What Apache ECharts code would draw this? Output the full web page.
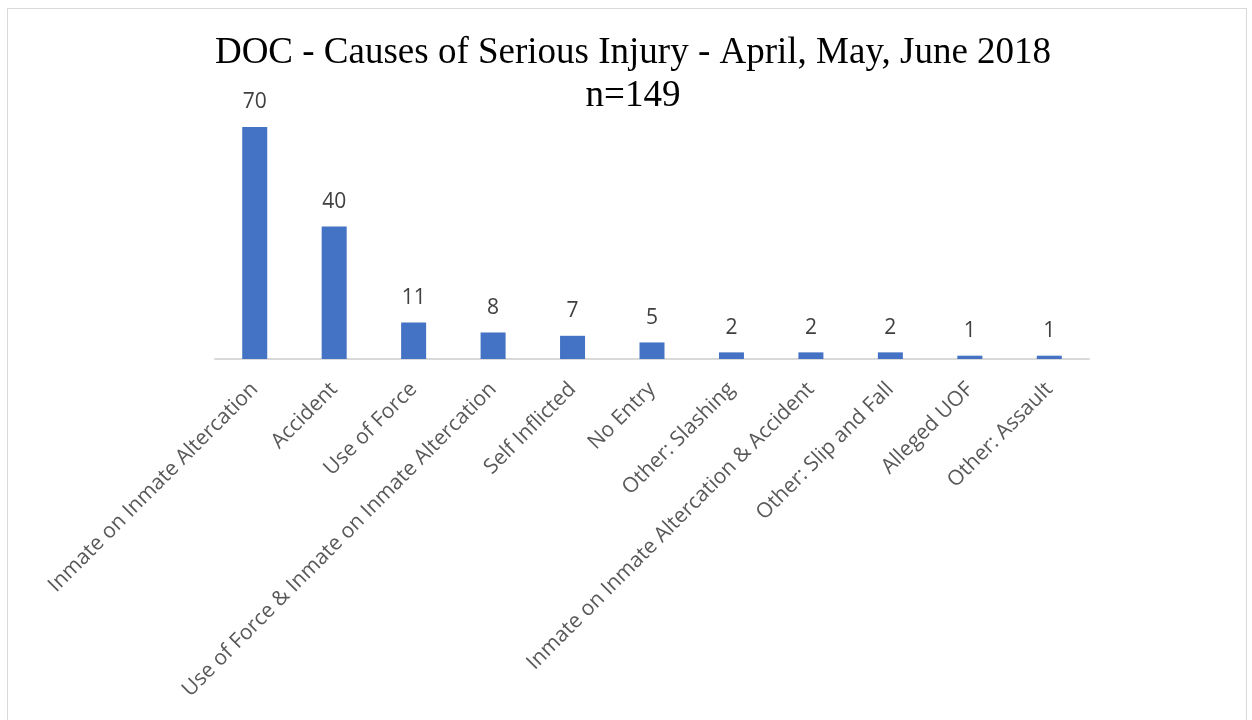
<!DOCTYPE html>
<html>
<head>
<meta charset="utf-8">
<script src="https://cdn.jsdelivr.net/npm/echarts@6/dist/echarts.min.js"></script>
<style>
  html, body { margin: 0; padding: 0; background: #fff; }
  #frame { position: absolute; left: 7px; top: 8px; width: 1240px; height: 720px; border: 1px solid #d9d9d9; box-sizing: border-box; }
  #chart { width: 1252px; height: 720px; position: absolute; left: 0; top: 0; }
</style>
</head>
<body>
<div id="frame"></div>
<div id="chart"></div>
<script>
const categories = [
  'Inmate on Inmate Altercation',
  'Accident',
  'Use of Force',
  'Use of Force & Inmate on Inmate Altercation',
  'Self Inflicted',
  'No Entry',
  'Other: Slashing',
  'Inmate on Inmate Altercation & Accident',
  'Other: Slip and Fall',
  'Alleged UOF',
  'Other: Assault'
]
const counts = [70, 40, 11, 8, 7, 5, 2, 2, 2, 1, 1]

const chart = echarts.init(document.getElementById('chart'), undefined, { renderer: 'canvas' })

chart.setOption({
  animation: false,
  title: {
    text: 'DOC - Causes of Serious Injury - April, May, June 2018\nn=149',
    left: 628,
    top: 27,
    textAlign: 'center',
    textStyle: {
      fontFamily: 'Liberation Serif',
      fontSize: 37,
      fontWeight: 'normal',
      color: '#000',
      lineHeight: 43
    }
  },
  grid: { top: 127, bottom: 361, left: 215, right: 163, containLabel: false },
  xAxis: {
    type: 'category',
    data: categories,
    axisLine: { lineStyle: { color: '#d9d9d9', width: 2 } },
    axisTick: { show: false },
    axisLabel: {
      rotate: 45,
      interval: 0,
      fontFamily: 'Open Sans',
      fontSize: 21,
      color: '#595959',
      margin: 27
    }
  },
  yAxis: {
    type: 'value',
    min: 0,
    max: 70,
    show: false
  },
  series: [{
    type: 'bar',
    data: counts,
    barWidth: 25,
    itemStyle: { color: '#4472c4' },
    label: {
      show: true,
      position: 'top',
      distance: 14,
      fontFamily: 'Open Sans',
      fontSize: 21,
      color: '#404040'
    }
  }]
})
</script>
</body>
</html>
